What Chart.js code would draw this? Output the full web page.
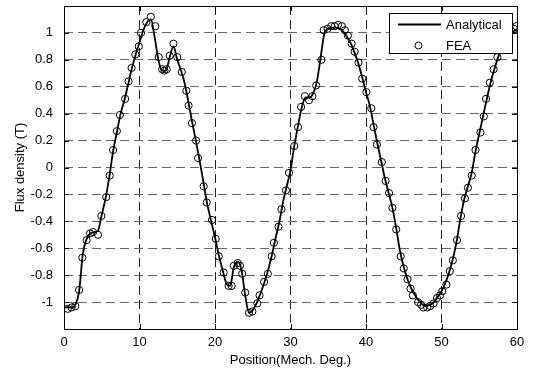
<!DOCTYPE html>
<html>
<head>
<meta charset="utf-8">
<script src="https://cdn.jsdelivr.net/npm/chart.js@4.4.1/dist/chart.umd.min.js"></script>
<style>
html,body{margin:0;padding:0;background:#fff;}
#wrap{width:536px;height:371px;position:relative;}
</style>
</head>
<body>
<div id="wrap"><canvas id="c" width="536" height="371"></canvas></div>
<script>
// Position (mech. deg.) and flux density (T)
const analyticalX = [0,0.5,1,1.5,2,2.5,3,3.5,4,4.5,5,5.5,6,6.5,7,7.5,8,8.5,9,9.5,10,10.5,11,11.5,12,12.5,13,13.5,14,14.5,15,15.5,16,16.5,17,17.5,18,18.5,19,19.5,20,20.5,21,21.5,22,22.5,23,23.5,24,24.5,25,25.5,26,26.5,27,27.5,28,28.5,29,29.5,30,30.5,31,31.5,32,32.5,33,33.5,34,34.5,35,35.5,36,36.5,37,37.5,38,38.5,39,39.5,40,40.5,41,41.5,42,42.5,43,43.5,44,44.5,45,45.5,46,46.5,47,47.5,48,48.5,49,49.5,50,50.5,51,51.5,52,52.5,53,53.5,54,54.5,55,55.5,56,56.5,57,57.5,58,58.5,59,59.5,60];
const analyticalY = [-1.04,-1.04,-1.04,-1.02,-0.92,-0.64,-0.53,-0.49,-0.48,-0.47,-0.35,-0.23,-0.07,0.12,0.26,0.40,0.50,0.62,0.74,0.84,0.93,1.02,1.08,1.10,0.97,0.80,0.72,0.72,0.82,0.90,0.80,0.72,0.62,0.48,0.33,0.19,0.04,-0.12,-0.28,-0.40,-0.52,-0.65,-0.76,-0.86,-0.88,-0.74,-0.70,-0.76,-0.95,-1.08,-1.06,-1.01,-0.94,-0.86,-0.77,-0.66,-0.53,-0.41,-0.26,-0.14,-0.02,0.16,0.31,0.45,0.52,0.52,0.55,0.64,0.82,1.00,1.03,1.04,1.04,1.03,1.01,0.97,0.92,0.85,0.77,0.67,0.56,0.46,0.32,0.18,0.05,-0.08,-0.19,-0.30,-0.45,-0.62,-0.74,-0.83,-0.90,-0.95,-0.99,-1.02,-1.03,-1.02,-1.00,-0.96,-0.92,-0.86,-0.78,-0.68,-0.55,-0.38,-0.24,-0.14,-0.04,0.12,0.25,0.38,0.51,0.63,0.73,0.82,0.89,0.95,0.99,1.01,1.03];

const feaX = [0.5,1.0,1.5,2.0,2.43,3.0,3.45,3.85,4.5,4.95,5.6,6.05,6.5,7.0,7.4,8.1,8.55,8.95,9.45,9.9,10.2,10.9,11.5,12.1,12.55,13.0,13.3,13.6,14.0,14.5,15.0,15.6,16.2,16.5,16.95,17.5,17.75,18.5,18.9,19.6,20.1,20.5,21.15,21.8,22.2,22.5,23.0,23.3,23.6,24.0,24.5,24.95,25.6,25.9,26.5,27.0,27.5,27.8,28.4,28.8,29.4,29.8,30.5,31.0,31.4,31.9,32.45,32.9,33.4,34.1,34.4,34.9,35.4,35.85,36.3,36.8,37.2,37.6,38.1,38.5,39.0,39.5,40.05,40.7,41.0,41.45,42.1,42.6,43.05,43.5,44.0,44.6,45.0,45.5,45.9,46.2,46.9,47.3,47.6,48.1,48.5,48.95,49.4,49.8,50.1,50.65,51.1,51.5,52.05,52.6,53.1,53.5,54.0,54.5,55.15,55.6,55.9,56.4,56.9,57.4,57.9,58.4,59.6,59.9];
const feaY = [-1.05,-1.04,-1.03,-0.91,-0.67,-0.54,-0.49,-0.48,-0.50,-0.36,-0.22,-0.06,0.13,0.27,0.39,0.51,0.64,0.74,0.84,0.90,1.00,1.08,1.12,1.05,0.82,0.73,0.72,0.73,0.83,0.92,0.82,0.71,0.57,0.46,0.33,0.20,0.07,-0.14,-0.26,-0.39,-0.53,-0.66,-0.78,-0.88,-0.88,-0.73,-0.71,-0.73,-0.79,-0.93,-1.08,-1.07,-1.01,-0.95,-0.85,-0.79,-0.66,-0.56,-0.44,-0.31,-0.17,-0.04,0.16,0.30,0.45,0.53,0.50,0.53,0.61,0.80,1.02,1.03,1.05,1.05,1.06,1.05,1.02,0.98,0.92,0.86,0.78,0.66,0.56,0.44,0.30,0.17,0.04,-0.10,-0.19,-0.30,-0.46,-0.66,-0.75,-0.83,-0.90,-0.95,-1.00,-1.02,-1.04,-1.04,-1.03,-1.01,-0.97,-0.95,-0.92,-0.87,-0.77,-0.69,-0.54,-0.36,-0.23,-0.15,-0.06,0.13,0.26,0.38,0.51,0.63,0.73,0.82,0.90,0.95,1.03,1.05];

const xTicks = [0,10,20,30,40,50,60];
const yTicks = [-1,-0.8,-0.6,-0.4,-0.2,0,0.2,0.4,0.6,0.8,1];
const seriesNames = ['Analytical','FEA'];
const xTitle = 'Position(Mech. Deg.)';
const yTitle = 'Flux density (T)';

const FONT = '"Liberation Sans", Arial, Helvetica, sans-serif';

const framePlugin = {
  id: 'frame',
  afterDraw(chart) {
    const {ctx, chartArea: a, scales} = chart;
    ctx.save();
    ctx.strokeStyle = '#000';
    ctx.lineWidth = 1;
    ctx.setLineDash([]);
    ctx.strokeRect(Math.round(a.left) + 0.5, Math.round(a.top) + 0.5, Math.round(a.right - a.left), Math.round(a.bottom - a.top));
    const L = 5;
    ctx.beginPath();
    xTicks.forEach(v => {
      const px = Math.round(scales.x.getPixelForValue(v)) + 0.5;
      ctx.moveTo(px, a.bottom); ctx.lineTo(px, a.bottom - L);
      ctx.moveTo(px, a.top); ctx.lineTo(px, a.top + L);
    });
    yTicks.forEach(v => {
      const py = Math.round(scales.y.getPixelForValue(v)) + 0.5;
      ctx.moveTo(a.left, py); ctx.lineTo(a.left + L, py);
      ctx.moveTo(a.right, py); ctx.lineTo(a.right - L, py);
    });
    ctx.stroke();
    ctx.restore();
  }
};

const legendPlugin = {
  id: 'boxLegend',
  afterDatasetsDraw(chart) {
    const {ctx} = chart;
    const x0 = 389.5, y0 = 13.5, w = 123, h = 40;
    ctx.save();
    ctx.fillStyle = '#fff';
    ctx.fillRect(x0, y0, w, h);
    ctx.strokeStyle = '#000';
    ctx.lineWidth = 1;
    ctx.strokeRect(x0, y0, w, h);
    ctx.beginPath();
    ctx.lineWidth = 1.8;
    ctx.moveTo(398, 24.5); ctx.lineTo(441, 24.5);
    ctx.stroke();
    ctx.lineWidth = 1;
    ctx.beginPath();
    ctx.arc(418.5, 45.5, 3.5, 0, Math.PI * 2);
    ctx.stroke();
    ctx.fillStyle = '#000';
    ctx.font = '13px ' + FONT;
    ctx.textBaseline = 'middle';
    ctx.textAlign = 'left';
    ctx.fillText(seriesNames[0], 446, 25.5);
    ctx.fillText(seriesNames[1], 446, 46);
    ctx.restore();
  }
};

new Chart(document.getElementById('c'), {
  type: 'scatter',
  data: {
    datasets: [
      {
        label: seriesNames[0],
        data: analyticalX.map((x, i) => ({x, y: analyticalY[i]})),
        showLine: true,
        borderColor: '#000',
        borderWidth: 1.8,
        pointRadius: 0,
        cubicInterpolationMode: 'monotone',
        order: 2
      },
      {
        label: seriesNames[1],
        data: feaX.map((x, i) => ({x, y: feaY[i]})),
        showLine: false,
        pointStyle: 'circle',
        pointRadius: 3.6,
        borderColor: '#000',
        backgroundColor: 'rgba(0,0,0,0)',
        borderWidth: 1,
        order: 1
      }
    ]
  },
  options: {
    responsive: false,
    animation: false,
    events: [],
    layout: {padding: {left: 0, right: 19, top: 6, bottom: 0}},
    plugins: {legend: {display: false}, tooltip: {enabled: false}},
    scales: {
      x: {
        type: 'linear', min: 0, max: 60,
        afterBuildTicks(s) { s.ticks = xTicks.map(v => ({value: v})); },
        afterFit(s) { s.height = 42; s.paddingLeft = 0; s.paddingRight = 0; },
        grid: {color: c => (c.tick && (c.tick.value === 0 || c.tick.value === 60)) ? 'rgba(0,0,0,0)' : '#222', drawTicks: false, lineWidth: 1},
        border: {display: false, dash: [9, 5]},
        ticks: {color: '#000', font: {family: FONT, size: 13}, padding: 6, maxRotation: 0, callback: v => String(v)},
        title: {display: true, text: xTitle, color: '#000', font: {family: FONT, size: 13}, padding: {top: 0, bottom: 3}}
      },
      y: {
        type: 'linear', min: -1.2, max: 1.2,
        afterBuildTicks(s) { s.ticks = yTicks.map(v => ({value: v})); },
        afterFit(s) { s.width = 64; s.paddingTop = 0; s.paddingBottom = 0; },
        grid: {color: '#666', drawTicks: false, lineWidth: 1},
        border: {display: false, dash: [9, 5]},
        ticks: {color: '#000', font: {family: FONT, size: 13}, padding: 11, callback: v => String(Math.round(v * 10) / 10)},
        title: {display: true, text: yTitle, color: '#000', font: {family: FONT, size: 13}, padding: {top: 13, bottom: 0}}
      }
    }
  },
  plugins: [framePlugin, legendPlugin]
});
</script>
</body>
</html>
